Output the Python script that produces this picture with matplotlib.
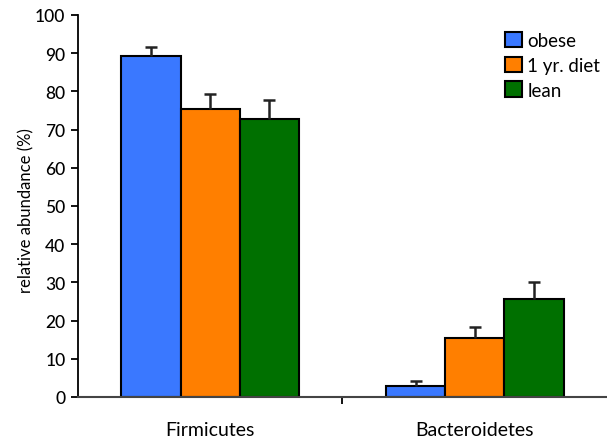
import matplotlib
matplotlib.use("Agg")
import matplotlib.pyplot as plt
import numpy as np

categories = ["Firmicutes", "Bacteroidetes"]
series = ["obese", "1 yr. diet", "lean"]
obese = [89.3, 2.9]
diet = [75.4, 15.4]
lean = [72.8, 25.7]
obese_err = [2.3, 1.2]
diet_err = [3.9, 2.9]
lean_err = [4.9, 4.4]
yticks = [0, 10, 20, 30, 40, 50, 60, 70, 80, 90, 100]

colors = ["#3a78ff", "#ff7f00", "#007000"]
plt.rcParams['font.family'] = ['Lato', 'DejaVu Sans']

fig = plt.figure(figsize=(6.07, 4.39), dpi=100)
ax = fig.add_axes([0.1285, 0.0934, 0.8715, 0.8702])

x = np.arange(len(categories))
w = 0.224
vals = [obese, diet, lean]
errs = [obese_err, diet_err, lean_err]
for i, (v, e) in enumerate(zip(vals, errs)):
    pos = x + (i - 1) * w
    ax.bar(pos, v, width=w, color=colors[i], edgecolor="black", linewidth=1.5,
           label=series[i], zorder=2)
    eb = ax.errorbar(pos, v, yerr=[np.zeros(len(e)), e], fmt="none", ecolor="#222222",
                     elinewidth=1.8, capsize=4, capthick=1.8, zorder=3)
    caps = eb.lines[1]
    if len(caps) > 1:
        caps[0].set_visible(False)

ax.set_xlim(-0.5, 1.5)
ax.set_ylim(0, 100)
ax.set_yticks(yticks)
ax.set_yticklabels([str(t) for t in yticks], fontsize=12.5, fontweight="medium")
ax.set_xticks([0.5])
ax.set_xticklabels([""])
for c, xc in zip(categories, x):
    ax.text(xc, -8.5, c, ha="center", va="center", fontsize=14,
            transform=ax.transData)
ax.tick_params(axis="y", direction="out", length=5, width=1.3, pad=4)
ax.tick_params(axis="x", direction="out", length=5, width=1.3)
ax.spines["top"].set_visible(False)
ax.spines["right"].set_visible(False)
ax.spines["left"].set_linewidth(1.3)
ax.spines["bottom"].set_linewidth(1.5)
ax.spines["bottom"].set_color("#444444")
ax.spines["bottom"].set_zorder(4)
ax.set_ylabel("relative abundance (%)", fontsize=12)
ax.yaxis.set_label_coords(-0.082, 0.49)

ax.legend(loc="upper left", bbox_to_anchor=(0.775, 1.0), frameon=False, fontsize=13.5,
          handlelength=0.9, handleheight=0.9, handletextpad=0.3, labelspacing=0.4)

fig.savefig("out.png", dpi=100)
